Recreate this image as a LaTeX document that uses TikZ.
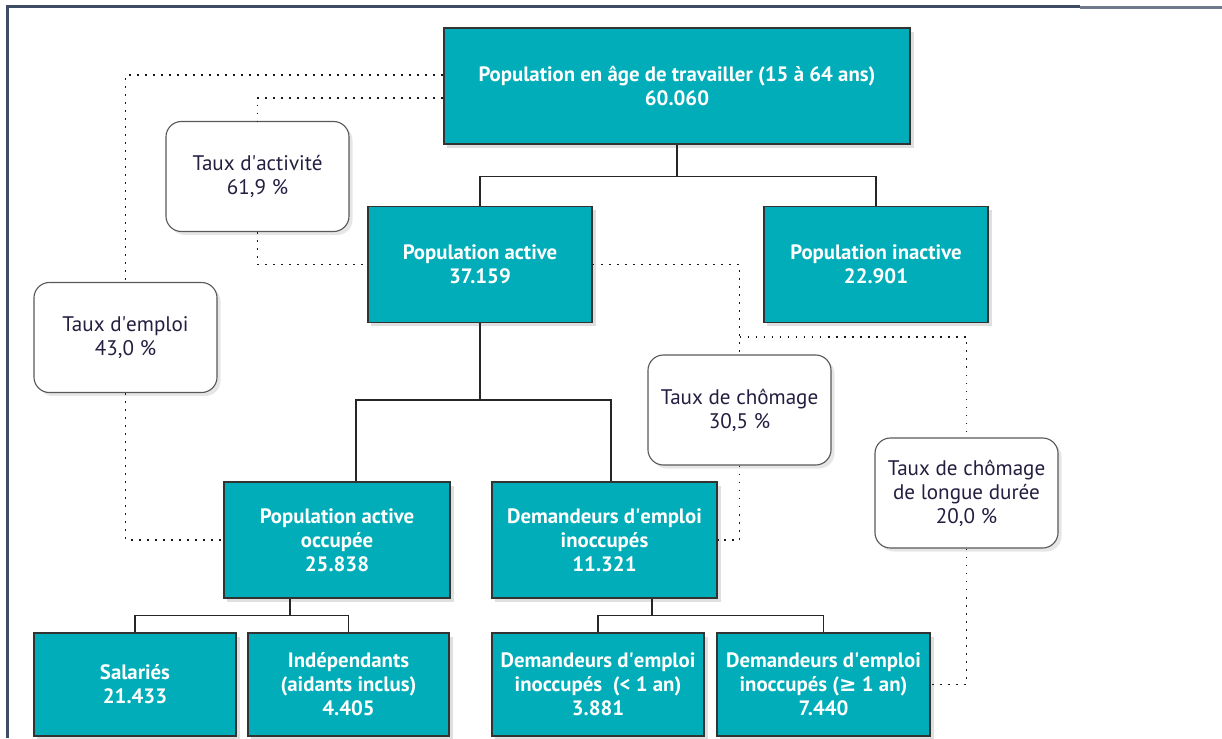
\documentclass[tikz,border=0pt]{standalone}
\usepackage{fontspec}
\setmainfont{PT Sans}
\newfontfamily\symfont{DejaVu Sans}
\usepackage{tikz}
\usetikzlibrary{calc,positioning,shadows}

\definecolor{boxteal}{HTML}{00ADB8}
\definecolor{tauxtext}{HTML}{231F40}
\definecolor{framecol}{HTML}{3E4C64}

\newcommand{\apos}{\textquotesingle}

\tikzset{
  popbox/.style={draw=black!80, line width=0.9pt, fill=boxteal, text=white,
    font=\bfseries\fontsize{14.8}{17}\selectfont, align=center, inner sep=0pt,
    drop shadow={opacity=0.25, shadow xshift=2.5pt, shadow yshift=-2.5pt}},
  tauxbox/.style={draw=black!65, line width=0.8pt, rounded corners=11pt, fill=white,
    text=tauxtext, font=\fontsize{15}{17}\selectfont, align=center, inner sep=0pt,
    minimum width=4.575cm, minimum height=2.75cm,
    drop shadow={opacity=0.2, shadow xshift=2.5pt, shadow yshift=-2.5pt}},
  tree/.style={draw=black!85, line width=0.8pt},
  dotline/.style={draw=black!90, line width=1.3pt, dash pattern=on 1.3pt off 4.4pt},
}

\begin{document}
\begin{tikzpicture}[x=0.025cm, y=-0.025cm]
		\useasboundingbox (0,0) rectangle (1222,738);
		\draw[framecol, line width=2.4pt] (7.5,738) -- (7.5,6.5) -- (1080,6.5);
		\draw[framecol!75, line width=1.8pt] (1080,7.5) -- (1222,7.5);

		\node[popbox, minimum width=11.65cm, minimum height=2.9cm] (wap) at (677,86) {Population en âge de travailler (15 à 64 ans)\\60.060};
		\node[popbox, minimum width=5.6cm, minimum height=2.9cm] (act) at (480,264.5) {Population active\\37.159};
		\node[popbox, minimum width=5.6cm, minimum height=2.9cm] (inact) at (876,264.5) {Population inactive\\22.901};
		\node[popbox, minimum width=5.65cm, minimum height=2.9cm] (occ) at (337,540) {Population active\\occupée\\25.838};
		\node[popbox, minimum width=5.625cm, minimum height=2.9cm] (dem) at (604.5,540) {Demandeurs d\apos emploi\\inoccupés\\11.321};
		\node[popbox, minimum width=5.05cm, minimum height=2.575cm] (sal) at (135,684.5) {Salariés\\21.433};
		\node[popbox, minimum width=5.025cm, minimum height=2.575cm] (indep) at (348.5,684.5) {Indépendants\\(aidants inclus)\\4.405};
		\node[popbox, minimum width=5.3cm, minimum height=2.575cm] (dcourt) at (598,684.5) {Demandeurs d\apos emploi\\inoccupés~~(< 1 an)\\3.881};
		\node[popbox, minimum width=5.325cm, minimum height=2.575cm] (dlong) at (823.5,684.5) {Demandeurs d\apos emploi\\inoccupés ({\symfont ≥} 1 an)\\7.440};

		\node[tauxbox] (tact) at (257.5,176.5) {Taux d\apos activité\\61,9 \%};
		\node[tauxbox] (templ) at (125.5,337.5) {Taux d\apos emploi\\43,0 \%};
		\node[tauxbox] (tcho) at (739.5,410) {Taux de chômage\\30,5 \%};
		\node[tauxbox] (tlong) at (966.5,493) {Taux de chômage\\de longue durée\\20,0 \%};

		\draw[tree] (wap.south) -- ++(0,32) -| (act.north);
		\draw[tree] (wap.south) -- ++(0,32) -| (inact.north);
		\coordinate (jact) at (480,400);
		\draw[tree] (act.south) -- (jact) -| ($(occ.north)+(19,0)$);
		\draw[tree] (jact) -| ($(dem.north)+(6.5,0)$);
		\draw[tree] ($(occ.south)+(-47,0)$) -- ++(0,17) -| (sal.north);
		\draw[tree] ($(occ.south)+(-47,0)$) -- ++(0,17) -| (indep.north);
		\draw[tree] ($(dem.south)+(47.5,0)$) -- ++(0,17) -| (dcourt.north);
		\draw[tree] ($(dem.south)+(47.5,0)$) -- ++(0,17) -| (dlong.north);

		\coordinate (wapa) at ($(wap.west)+(0,-11)$);
		\coordinate (wapb) at ($(wap.west)+(0,12)$);
		\coordinate (fork) at (739.5,337);
		\draw[dotline] (wapa) -| (templ.north);
		\draw[dotline] (templ.south) |- (occ.west);
		\draw[dotline] (wapb) -| (tact.north);
		\draw[dotline] (tact.south) |- (act.west);
		\draw[dotline] (act.east) -| (tcho.north);
		\draw[dotline] (fork) -| (tlong.north);
		\draw[dotline] (tcho.south) |- (dem.east);
		\draw[dotline] (tlong.south) |- (dlong.east);
	\end{tikzpicture}
\end{document}
